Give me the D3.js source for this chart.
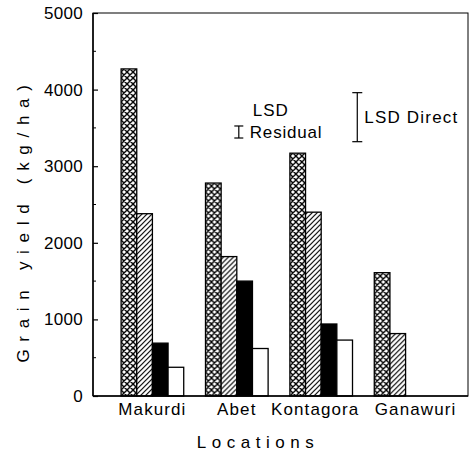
<!DOCTYPE html>
<html>
<head>
<meta charset="utf-8">
<script src="https://cdn.jsdelivr.net/npm/d3@7"></script>
<style>
  html, body { margin: 0; padding: 0; background: #fff; }
  svg { display: block; }
  text { font-family: "Liberation Sans", Arial, Helvetica, sans-serif; fill: #000; }
</style>
</head>
<body>
<svg id="chart" width="472" height="452"></svg>
<script>
// ---- data ----
const locations = ["Makurdi", "Abet", "Kontagora", "Ganawuri"];
const seriesNames = ["Treatment 1", "Treatment 2", "Treatment 3", "Treatment 4"];
const seriesPatterns = ["crosshatch", "hatch", "solid", "empty"];
const treatment1 = [4270, 2780, 3170, 1610];
const treatment2 = [2380, 1820, 2400, 815];
const treatment3 = [690, 1500, 940, null];
const treatment4 = [375, 620, 730, null];
const yTicks = [0, 1000, 2000, 3000, 4000, 5000];
const yMinorTicks = [500, 1500, 2500, 3500, 4500];
const lsdResidual = [3368, 3525];
const lsdDirect = [3320, 3960];
const yTitle = "Grain yield (kg/ha)";
const xTitle = "Locations";

const allSeries = [treatment1, treatment2, treatment3, treatment4];

// ---- layout ----
const mLeft = 93, mRight = 468, mTop = 13, mBottom = 396;
const svg = d3.select("#chart");

const y = d3.scaleLinear().domain([0, 5000]).range([mBottom, mTop]);
const x0 = d3.scaleBand().domain(locations).range([mLeft, 465]).paddingInner(0.258).paddingOuter(0.333);
const x1 = d3.scaleBand().domain(seriesNames).range([0, x0.bandwidth()]);

// ---- patterns ----
const defs = svg.append("defs");
const cs = 6;
const ch = defs.append("pattern").attr("id", "crosshatch").attr("patternUnits", "userSpaceOnUse")
  .attr("width", cs).attr("height", cs);
ch.append("rect").attr("width", cs).attr("height", cs).attr("fill", "#fff");
ch.append("path").attr("d", `M0,0 L${cs},${cs} M${cs},0 L0,${cs} M-1,${cs-1} L1,${cs+1} M${cs-1},-1 L${cs+1},1 M-1,1 L1,-1 M${cs-1},${cs+1} L${cs+1},${cs-1}`)
  .attr("stroke", "#000").attr("stroke-width", 1.4);
const hs = 5;
const hh = defs.append("pattern").attr("id", "hatch").attr("patternUnits", "userSpaceOnUse")
  .attr("width", hs).attr("height", hs);
hh.append("rect").attr("width", hs).attr("height", hs).attr("fill", "#fff");
hh.append("path").attr("d", `M-1,${hs+1} L${hs+1},-1 M-1,1 L1,-1 M${hs-1},${hs+1} L${hs+1},${hs-1}`)
  .attr("stroke", "#000").attr("stroke-width", 1.2);

const fillFor = p => p === "crosshatch" ? "url(#crosshatch)" : p === "hatch" ? "url(#hatch)" : p === "solid" ? "#000" : "#fff";

// ---- bars ----
const groups = svg.append("g").selectAll("g").data(locations).join("g")
  .attr("transform", d => `translate(${x0(d)},0)`);
groups.selectAll("rect")
  .data((loc, i) => seriesNames.map((s, j) => ({ s, v: allSeries[j][i], p: seriesPatterns[j] })).filter(d => d.v != null))
  .join("rect")
  .attr("x", d => x1(d.s))
  .attr("y", d => y(d.v))
  .attr("width", x1.bandwidth())
  .attr("height", d => y(0) - y(d.v))
  .attr("fill", d => fillFor(d.p))
  .attr("stroke", "#000")
  .attr("stroke-width", 1.3);

// ---- frame ----
svg.append("rect").attr("x", mLeft).attr("y", mTop).attr("width", mRight - mLeft).attr("height", mBottom - mTop)
  .attr("fill", "none").attr("stroke", "#000").attr("stroke-width", 1);
svg.append("line").attr("x1", mLeft).attr("x2", mLeft).attr("y1", mTop).attr("y2", mBottom)
  .attr("stroke", "#000").attr("stroke-width", 1.5);
svg.append("line").attr("x1", mLeft).attr("x2", mRight).attr("y1", mBottom).attr("y2", mBottom)
  .attr("stroke", "#000").attr("stroke-width", 1.5);

// ---- y axis ----
const yAxis = d3.axisLeft(y).tickValues(yTicks).tickSize(-5).tickPadding(10).tickFormat(d3.format("d"));
const ya = svg.append("g").attr("transform", `translate(${mLeft},0)`).call(yAxis);
ya.select(".domain").remove();
ya.selectAll("text").style("font-size", "17px").style("letter-spacing", "0.3px").attr("fill", "#000");
ya.selectAll("line").attr("stroke", "#000").attr("stroke-width", 1.2);
svg.append("g").selectAll("line").data(yMinorTicks).join("line")
  .attr("x1", mLeft).attr("x2", mLeft + 3).attr("y1", d => y(d)).attr("y2", d => y(d))
  .attr("stroke", "#000").attr("stroke-width", 1);

// ---- x labels ----
const labelShift = { "Kontagora": -6, "Ganawuri": 10 };
svg.append("g").selectAll("text").data(locations).join("text")
  .attr("x", d => x0(d) + x0.bandwidth() / 2 + (labelShift[d] || 0))
  .attr("y", 415)
  .attr("text-anchor", "middle")
  .style("font-size", "17px").style("letter-spacing", "1.1px")
  .text(d => d);

// ---- axis titles ----
svg.append("text").attr("x", 258).attr("y", 448).attr("text-anchor", "middle")
  .style("font-size", "17px").style("letter-spacing", "5.5px").text(xTitle);
svg.append("text").attr("transform", "translate(29,220) rotate(-90)").attr("text-anchor", "middle")
  .style("font-size", "17px").style("letter-spacing", "7.7px").text(yTitle);

// ---- LSD annotations ----
const resX = x0("Abet") + x0.bandwidth() / 2 + 2;
const dirX = x0("Ganawuri") - 17;
function ibeam(xc, vals, cap) {
  const g = svg.append("g").attr("stroke", "#000").attr("stroke-width", 1.2);
  g.append("line").attr("x1", xc).attr("x2", xc).attr("y1", y(vals[0])).attr("y2", y(vals[1]));
  vals.forEach(v => g.append("line").attr("x1", xc - cap).attr("x2", xc + cap).attr("y1", y(v)).attr("y2", y(v)));
}
ibeam(resX, lsdResidual, 4.5);
ibeam(dirX, lsdDirect, 5);
svg.append("text").attr("x", resX + 14).attr("y", 116).style("font-size", "17px").style("letter-spacing", "1px").text("LSD");
svg.append("text").attr("x", resX + 11).attr("y", 138).style("font-size", "17px").style("letter-spacing", "0.8px").text("Residual");
svg.append("text").attr("x", dirX + 7).attr("y", 123).style("font-size", "17px").style("letter-spacing", "1.2px").text("LSD Direct");
</script>
</body>
</html>
